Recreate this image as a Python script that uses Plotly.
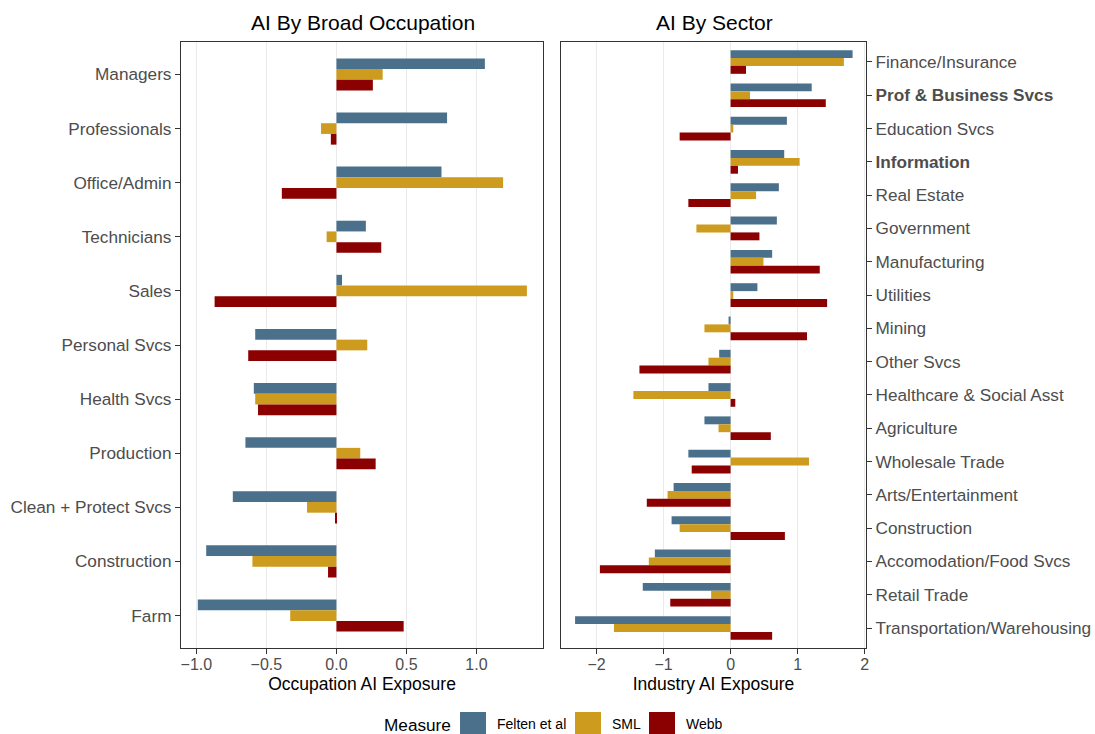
import plotly.graph_objects as go

# ---- data -------------------------------------------------------------
measures = ["Felten et al", "SML", "Webb"]
measure_colors = ["#4A708B", "#CD9B1D", "#8B0000"]

occupations = ["Managers", "Professionals", "Office/Admin", "Technicians", "Sales",
               "Personal Svcs", "Health Svcs", "Production", "Clean + Protect Svcs",
               "Construction", "Farm"]
occ_felten = [1.06, 0.79, 0.75, 0.21, 0.04, -0.58, -0.59, -0.65, -0.74, -0.93, -0.99]
occ_sml = [0.33, -0.11, 1.19, -0.07, 1.36, 0.22, -0.58, 0.17, -0.21, -0.60, -0.33]
occ_webb = [0.26, -0.04, -0.39, 0.32, -0.87, -0.63, -0.56, 0.28, -0.01, -0.06, 0.48]

sectors = ["Finance/Insurance", "Prof & Business Svcs", "Education Svcs", "Information",
           "Real Estate", "Government", "Manufacturing", "Utilities", "Mining",
           "Other Svcs", "Healthcare & Social Asst", "Agriculture", "Wholesale Trade",
           "Arts/Entertainment", "Construction", "Accomodation/Food Svcs", "Retail Trade",
           "Transportation/Warehousing"]
sec_felten = [1.82, 1.21, 0.84, 0.80, 0.72, 0.69, 0.62, 0.40, -0.03, -0.17, -0.33,
              -0.39, -0.63, -0.85, -0.88, -1.13, -1.31, -2.32]
sec_sml = [1.69, 0.29, 0.04, 1.03, 0.38, -0.51, 0.49, 0.04, -0.39, -0.33, -1.45,
           -0.18, 1.17, -0.94, -0.76, -1.22, -0.29, -1.74]
sec_webb = [0.23, 1.42, -0.76, 0.11, -0.63, 0.43, 1.33, 1.44, 1.14, -1.36, 0.07,
            0.60, -0.58, -1.25, 0.81, -1.95, -0.90, 0.62]
bold_sectors = {"Prof & Business Svcs", "Information"}

occ_ticks = [-1.0, -0.5, 0.0, 0.5, 1.0]
sec_ticks = [-2, -1, 0, 1, 2]

# ---- helpers ----------------------------------------------------------
W, H = 1095, 734
FONT = "Liberation Sans"
TICK_GREY = "#4d4d4d"
BORDER = "#333333"


def px_x(p):
    return p / W


def px_y(p):
    return 1 - p / H


def fmt(v, digits):
    s = f"{abs(v):.{digits}f}"
    return ("\u2212" + s) if v < 0 else s


fig = go.Figure()

panels = [
    (occupations, [occ_felten, occ_sml, occ_webb], "x", "y", 0.198),
    (sectors, [sec_felten, sec_sml, sec_webb], "x2", "y2", 0.237),
]
for cats, series, xa, ya, w in panels:
    for i, (name, vals, col) in enumerate(zip(measures, series, measure_colors)):
        fig.add_trace(go.Bar(
            x=vals, y=cats, orientation="h", name=name,
            marker=dict(color=col, line=dict(width=0)),
            width=w, offset=(i - 1.5) * w,
            xaxis=xa, yaxis=ya, showlegend=False,
        ))

axis_common = dict(
    showline=True, mirror=True, linecolor=BORDER, linewidth=1.2,
    ticks="outside", ticklen=5, tickcolor=BORDER, tickwidth=1.1,
    zeroline=False, automargin=False,
)

y_dom = [px_y(648), px_y(42)]

fig.update_layout(
    width=W, height=H,
    margin=dict(l=0, r=0, t=0, b=0),
    paper_bgcolor="white", plot_bgcolor="white",
    barmode="overlay",
    font=dict(family=FONT, color="black"),
    showlegend=False,
    xaxis=dict(
        domain=[px_x(181), px_x(543)], range=[-1.11, 1.475], anchor="y",
        tickvals=occ_ticks, ticktext=[fmt(v, 1) for v in occ_ticks],
        tickfont=dict(size=16, color=TICK_GREY), ticklabelstandoff=-3,
        showgrid=True, gridcolor="#ebebeb", gridwidth=1.1,
        title=dict(text="Occupation AI Exposure", font=dict(size=17.5, color="black"),
                   standoff=5),
        **axis_common,
    ),
    yaxis=dict(
        domain=y_dom, type="category", anchor="x",
        range=[len(occupations) - 0.4, -0.6],
        tickfont=dict(size=17.2, color=TICK_GREY),
        showgrid=False,
        **axis_common,
    ),
    xaxis2=dict(
        domain=[px_x(561), px_x(866)], range=[-2.53, 2.02], anchor="y2",
        tickvals=sec_ticks, ticktext=[fmt(v, 0) for v in sec_ticks],
        tickfont=dict(size=16, color=TICK_GREY), ticklabelstandoff=-3,
        showgrid=True, gridcolor="#ebebeb", gridwidth=1.1,
        title=dict(text="Industry AI Exposure", font=dict(size=17.5, color="black"),
                   standoff=5),
        **axis_common,
    ),
    yaxis2=dict(
        domain=y_dom, type="category", anchor="x2", side="right",
        range=[len(sectors) - 0.4, -0.6],
        tickvals=sectors,
        ticktext=[f"<b>{s}</b>" if s in bold_sectors else s for s in sectors],
        tickfont=dict(size=17.2, color=TICK_GREY),
        showgrid=False,
        **axis_common,
    ),
)

annotations = [
    # overall heading (sits above the page edge, only descenders show)
    dict(text="AI Exposure by Broad Occupation and Sector", x=px_x(283), y=1,
         xref="paper", yref="paper", xanchor="left", yanchor="bottom", yshift=-3,
         showarrow=False, font=dict(family="Liberation Serif", size=25.5, color="black")),
    dict(text="AI By Broad Occupation", x=px_x(363), y=px_y(22), xref="paper", yref="paper",
         xanchor="center", yanchor="middle", showarrow=False,
         font=dict(size=21, color="black")),
    dict(text="AI By Sector", x=px_x(714), y=px_y(22), xref="paper", yref="paper",
         xanchor="center", yanchor="middle", showarrow=False,
         font=dict(size=21, color="black")),
    dict(text="Measure", x=px_x(382), y=px_y(725), xref="paper", yref="paper",
         xanchor="left", yanchor="middle", showarrow=False,
         font=dict(size=17.2, color="black")),
]

# legend keys drawn as boxes next to their labels
shapes = []
key_left = [460, 575, 649]
for name, col, kx in zip(measures, measure_colors, key_left):
    shapes.append(dict(type="rect", xref="paper", yref="paper",
                       x0=px_x(kx), x1=px_x(kx + 26), y0=px_y(734), y1=px_y(712),
                       fillcolor=col, line=dict(width=0)))
    annotations.append(dict(text=name, x=px_x(kx + 35), y=px_y(724), xref="paper",
                            yref="paper", xanchor="left", yanchor="middle",
                            showarrow=False, font=dict(size=14, color="black")))

fig.update_layout(annotations=annotations, shapes=shapes)

fig.write_html("out.html")
